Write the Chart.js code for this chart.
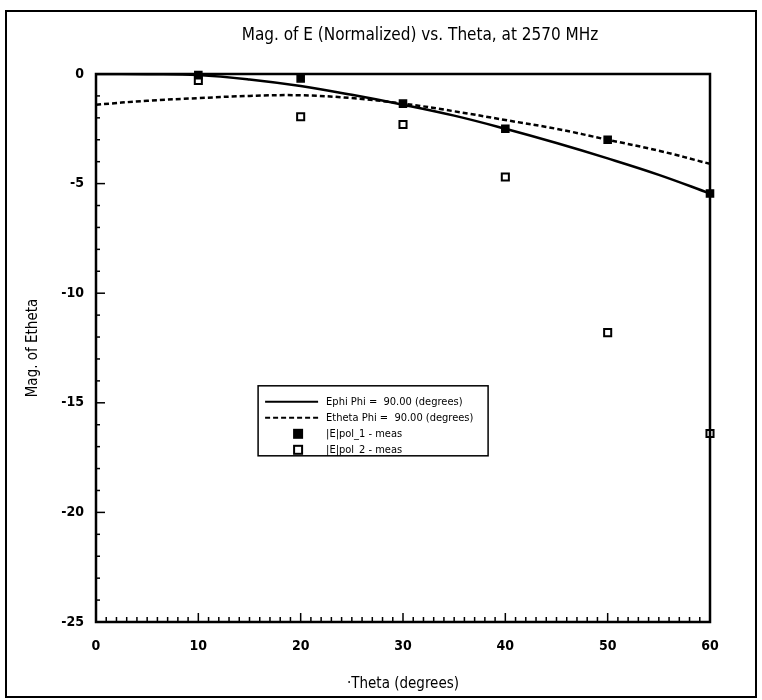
<!DOCTYPE html>
<html>
<head>
<meta charset="utf-8">
<script src="https://cdn.jsdelivr.net/npm/chart.js@4/dist/chart.umd.min.js"></script>
<style>
  html, body { margin: 0; padding: 0; background: #fff; }
  canvas { display: block; }
</style>
</head>
<body>
<canvas id="grafico" width="762" height="700"></canvas>
<script>
// datos
const titulo = "Mag. of E (Normalized) vs. Theta, at 2570 MHz";
const tituloX = "·Theta (degrees)";
const tituloY = "Mag. of Etheta";

const thetaCurva = [0, 5, 10, 15, 20, 25, 30, 35, 40, 45, 50, 55, 60];
const ephi   = [0, -0.01, -0.05, -0.25, -0.55, -0.95, -1.4, -1.9, -2.5, -3.15, -3.85, -4.6, -5.45];
const etheta = [-1.4, -1.22, -1.1, -1.0, -0.97, -1.1, -1.35, -1.7, -2.1, -2.5, -3.0, -3.5, -4.1];

const thetaMed = [10, 20, 30, 40, 50, 60];
const pol1 = [-0.05, -0.2, -1.35, -2.5, -3.0, -5.45];
const pol2 = [-0.3, -1.95, -2.3, -4.7, -11.8, -16.4];

const etiquetas = [
    "Ephi Phi =  90.00 (degrees)",
    "Etheta Phi =  90.00 (degrees)",
    "|E|pol_1 - meas",
    "|E|pol_2 - meas"
];

const ticksX = [0, 10, 20, 30, 40, 50, 60];
const ticksY = [0, -5, -10, -15, -20, -25];

const fuente = "'Liberation Sans Narrow', 'DejaVu Sans Condensed', 'Noto Sans', sans-serif";

const pares = (xs, ys) => xs.map((x, i) => ({ x: x, y: ys[i] }));

// marco, titulo, marcas y leyenda
const dibujoExtra = {
    id: 'dibujoExtra',
    beforeDraw(chart) {
        const c = chart.ctx;
        c.save();
        c.fillStyle = '#fff';
        c.fillRect(0, 0, chart.width, chart.height);
        c.strokeStyle = '#000';
        c.lineWidth = 2;
        c.strokeRect(6, 11, 750, 686);
        c.fillStyle = '#000';
        c.font = "17px " + fuente;
        c.textAlign = 'center';
        c.textBaseline = 'middle';
        c.fillText(titulo, 420, 36);
        c.restore();
    },
    afterDatasetsDraw(chart) {
        const c = chart.ctx;
        const a = chart.chartArea;
        const sx = chart.scales.x, sy = chart.scales.y;
        c.save();
        c.strokeStyle = '#000';
        c.lineWidth = 2.5;
        c.strokeRect(a.left, a.top, a.right - a.left, a.bottom - a.top);

        c.lineWidth = 1.5;
        for (let v = sx.min; v <= sx.max; v++) {
            const px = sx.getPixelForValue(v);
            const l = v % 10 === 0 ? 9 : 5;
            c.beginPath(); c.moveTo(px, a.bottom); c.lineTo(px, a.bottom - l); c.stroke();
        }
        for (let v = sy.max; v >= sy.min; v--) {
            const py = sy.getPixelForValue(v);
            const l = v % 5 === 0 ? 9 : 4;
            c.beginPath(); c.moveTo(a.left, py); c.lineTo(a.left + l, py); c.stroke();
        }

        // leyenda
        const w = a.right - a.left, h = a.bottom - a.top;
        const bx = a.left + w * 0.264, by = a.top + h * 0.569;
        const bw = 230, bh = 70;
        c.fillStyle = '#fff';
        c.fillRect(bx, by, bw, bh);
        c.lineWidth = 1.5;
        c.strokeRect(bx, by, bw, bh);
        c.font = "11px " + fuente;
        c.textAlign = 'left';
        c.textBaseline = 'middle';
        chart.data.datasets.forEach((ds, i) => {
            const ry = by + 16 + i * 16;
            c.strokeStyle = '#000';
            c.fillStyle = '#000';
            if (ds.showLine === false) {
                c.lineWidth = 2;
                c.fillStyle = ds.pointBackgroundColor;
                c.fillRect(bx + 36, ry - 4, 8, 8);
                c.strokeRect(bx + 36, ry - 4, 8, 8);
            } else {
                c.lineWidth = 2;
                c.setLineDash(ds.borderDash || []);
                c.beginPath(); c.moveTo(bx + 7, ry); c.lineTo(bx + 60, ry); c.stroke();
                c.setLineDash([]);
            }
            c.fillStyle = '#000';
            c.fillText(ds.label, bx + 68, ry);
        });
        c.restore();
    }
};

new Chart(document.getElementById("grafico"), {
    type: 'line',
    data: {
        datasets: [
            {
                label: etiquetas[0],
                data: pares(thetaCurva, ephi),
                borderColor: '#000', borderWidth: 2.5,
                pointRadius: 0, tension: 0.4, fill: false
            },
            {
                label: etiquetas[1],
                data: pares(thetaCurva, etheta),
                borderColor: '#000', borderWidth: 2.5, borderDash: [5, 3],
                pointRadius: 0, tension: 0.4, fill: false
            },
            {
                label: etiquetas[2],
                data: pares(thetaMed, pol1),
                showLine: false, pointStyle: 'rect', pointRadius: 5,
                pointBackgroundColor: '#000', pointBorderColor: '#000', pointBorderWidth: 1.5,
                clip: false
            },
            {
                label: etiquetas[3],
                data: pares(thetaMed, pol2),
                showLine: false, pointStyle: 'rect', pointRadius: 5,
                pointBackgroundColor: '#fff', pointBorderColor: '#000', pointBorderWidth: 2,
                clip: false
            }
        ]
    },
    options: {
        responsive: false,
        animation: false,
        layout: { padding: { left: 6, right: 52, top: 74, bottom: 3 } },
        plugins: { legend: { display: false }, tooltip: { enabled: false }, title: { display: false } },
        scales: {
            x: {
                type: 'linear', min: 0, max: 60,
                afterBuildTicks: s => { s.ticks = ticksX.map(v => ({ value: v })); },
                afterFit: s => { s.height = 75; },
                grid: { display: false },
                border: { display: false },
                ticks: { color: '#000', font: { family: fuente, size: 14, weight: 'bold' }, padding: 8, maxRotation: 0 },
                title: { display: true, text: tituloX, color: '#000', font: { family: fuente, size: 15 }, padding: { top: 25, bottom: 4 } }
            },
            y: {
                type: 'linear', min: -25, max: 0,
                afterBuildTicks: s => { s.ticks = ticksY.map(v => ({ value: v })); },
                afterFit: s => { s.width = 90; },
                grid: { display: false },
                border: { display: false },
                ticks: { color: '#000', font: { family: fuente, size: 14, weight: 'bold' }, padding: 4 },
                title: { display: true, text: tituloY, color: '#000', font: { family: fuente, size: 15 }, padding: { top: 18, bottom: 0 } }
            }
        }
    },
    plugins: [dibujoExtra]
});
</script>
</body>
</html>
